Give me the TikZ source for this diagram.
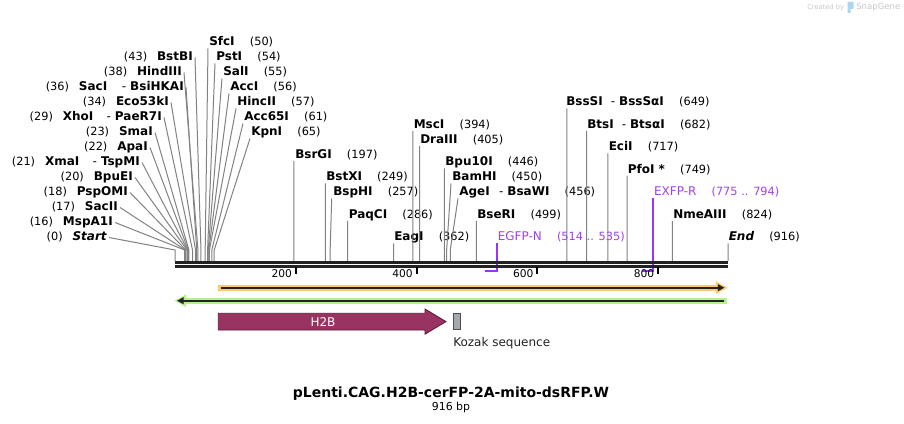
\documentclass[tikz,border=0pt]{standalone}
\usepackage{fontspec}
\setmainfont{DejaVu Sans}
\usetikzlibrary{arrows.meta}
\definecolor{cutgray}{RGB}{130,130,130}
\definecolor{barblack}{RGB}{34,34,34}
\definecolor{primer}{RGB}{153,51,255}
\definecolor{primertxt}{RGB}{160,64,240}
\definecolor{htwob}{RGB}{153,51,97}
\definecolor{htwobdark}{RGB}{90,25,55}
\definecolor{kozak}{RGB}{164,169,176}
\definecolor{orangeband}{RGB}{255,200,112}
\definecolor{greenband}{RGB}{180,240,140}
\definecolor{logogray}{RGB}{200,200,200}
\definecolor{logoblue}{RGB}{170,215,240}
\tikzset{
  lbl/.style={font=\bfseries\fontsize{9}{10}\selectfont, inner sep=0pt, text=black},
  num/.style={font=\fontsize{8.5}{10}\selectfont, inner sep=0pt, text=black},
  plbl/.style={font=\fontsize{9}{10}\selectfont, inner sep=0pt, text=primertxt},
  pnum/.style={font=\fontsize{8.5}{10}\selectfont, inner sep=0pt, text=primertxt},
  cut/.style={draw=cutgray, line width=0.75pt},
  seqline/.style={draw=barblack, line width=1.9pt},
  tickmark/.style={draw=black, line width=1.5pt},
  ticklbl/.style={font=\fontsize{8}{9}\selectfont, inner sep=0pt, anchor=base east},
  primerline/.style={draw=primer, line width=1.3pt},
}
% right-reading label: id, name, number, name x, y, bp, top x of line
\newcommand{\rsite}[7]{%
  \node[lbl,anchor=base west] (#1) at (#4,#5+4) {#2};
  \node[num,anchor=base west] (#1n) at ([xshift=11pt]#1.base east) {#3};
  \coordinate (#1a) at (#7,#5+6.5);
  \coordinate (#1b) at (175+#6*0.60371,250);
  \coordinate (#1c) at (175+#6*0.60371,261);
  \draw[cut] (#1a) -- (#1b) -- (#1c);}
% left-reading label: id, name, number, name right x, y, bp
\newcommand{\lsite}[6]{%
  \node[lbl,anchor=base east] (#1) at (#4,#5+4) {#2};
  \node[num,anchor=base east] (#1n) at ([xshift=-7pt]#1.base west) {#3};
  \coordinate (#1a) at (#4+2,#5+0.5);
  \coordinate (#1b) at (175+#6*0.60371,250);
  \coordinate (#1c) at (175+#6*0.60371,261);
  \draw[cut] (#1a) -- (#1b) -- (#1c);}
\begin{document}
\begin{tikzpicture}[x=0.75pt,y=-0.75pt]
\useasboundingbox (0,0) rectangle (904,424);
\fill[white] (0,0) rectangle (904,424);

% logo
\node[font=\fontsize{5}{6}\selectfont, text=logogray, inner sep=0pt, anchor=west] (created) at (807,7.5) {Created by};
\fill[logoblue] (847.5,2) -- (853.5,2) -- (853.5,9) -- (850.5,9) -- (850.5,13) -- (847.5,13) -- cycle;
\node[font=\fontsize{6.4}{7}\selectfont, text=logogray, inner sep=0pt, anchor=west] (snapgene) at (856,7.5) {SnapGene};

% left labels
\lsite{bstbi}{BstBI}{(43)}{193}{57}{43}
\lsite{hind}{HindIII}{(38)}{182}{72}{38}
\lsite{saci}{SacI\hspace{11pt}{\mdseries -}\hspace{3pt}BsiHKAI}{(36)}{184}{87}{36}
\lsite{eco}{Eco53kI}{(34)}{169}{102}{34}
\lsite{xhoi}{XhoI\hspace{10pt}{\mdseries -}\hspace{3pt}PaeR7I}{(29)}{162}{117}{29}
\lsite{smai}{SmaI}{(23)}{153}{132}{23}
\lsite{apai}{ApaI}{(22)}{148}{147}{22}
\lsite{xmai}{XmaI\hspace{10pt}{\mdseries -}\hspace{3pt}TspMI}{(21)}{140}{162}{21}
\lsite{bpuei}{BpuEI}{(20)}{133}{177}{20}
\lsite{pspomi}{PspOMI}{(18)}{128}{192}{18}
\lsite{sacii}{SacII}{(17)}{118}{207}{17}
\lsite{mspa}{MspA1I}{(16)}{113}{222}{16}
\lsite{start}{\itshape Start}{(0)}{107}{237}{0}

% right labels (top fan)
\rsite{sfci}{SfcI}{(50)}{209}{42}{50}{208}
\rsite{psti}{PstI}{(54)}{216}{57}{54}{215}
\rsite{sali}{SalI}{(55)}{223}{72}{55}{222}
\rsite{acci}{AccI}{(56)}{230}{87}{56}{229}
\rsite{hinc}{HincII}{(57)}{237}{102}{57}{236}
\rsite{accsf}{Acc65I}{(61)}{244}{117}{61}{243}
\rsite{kpni}{KpnI}{(65)}{251}{132}{65}{250}

% middle and right labels
\rsite{bsrgi}{BsrGI}{(197)}{295}{154.5}{197}{293.9}
\rsite{bstxi}{BstXI}{(249)}{326}{177}{249}{325.3}
\rsite{bsphi}{BspHI}{(257)}{333}{192}{257}{331.7}
\rsite{paqci}{PaqCI}{(286)}{348.5}{214.5}{286}{347.7}
\rsite{eagi}{EagI}{(362)}{394}{237}{362}{393.5}
\rsite{msci}{MscI}{(394)}{413.5}{124.5}{394}{412.9}
\rsite{dra}{DraIII}{(405)}{420}{139.5}{405}{419.5}
\rsite{bpu}{Bpu10I}{(446)}{445}{162}{446}{444.3}
\rsite{bamhi}{BamHI}{(450)}{452}{177}{450}{451}
\rsite{agei}{AgeI\hspace{7pt}{\mdseries -}\hspace{3pt}BsaWI}{(456)}{459}{192}{456}{458}
\rsite{bseri}{BseRI}{(499)}{477}{214.5}{499}{476.3}
\rsite{bsssi}{BssSI\hspace{6pt}{\mdseries -}\hspace{3pt}BssSαI}{(649)}{566}{102}{649}{566.8}
\rsite{btsi}{BtsI\hspace{6pt}{\mdseries -}\hspace{3pt}BtsαI}{(682)}{587}{124.5}{682}{586.7}
\rsite{ecii}{EciI}{(717)}{608.5}{147}{717}{607.8}
\rsite{pfoi}{PfoI *}{(749)}{627.5}{169.5}{749}{627.2}
\rsite{nme}{NmeAIII}{(824)}{673}{214.5}{824}{672.4}
\rsite{endl}{\itshape End}{(916)}{728.5}{237}{916}{728}

% primers
\node[plbl,anchor=base west] (egfpn) at (497.5,241) {EGFP-N};
\node[pnum,anchor=base west] (egfpnn) at ([xshift=11pt]egfpn.base east) {(514 .. 535)};
\coordinate (egfpa) at (497.3,243.5);
\coordinate (egfpb) at (497.3,270.7);
\coordinate (egfpc) at (485.3,270.7);
\draw[primerline] (egfpa) -- (egfpb) -- (egfpc);
\node[plbl,anchor=base west] (exfpr) at (653.8,196) {EXFP-R};
\node[pnum,anchor=base west] (exfprn) at ([xshift=11pt]exfpr.base east) {(775 .. 794)};
\coordinate (exfpa) at (653.3,198.5);
\coordinate (exfpb) at (653.3,270.7);
\coordinate (exfpc) at (641.7,270.7);
\draw[primerline] (exfpa) -- (exfpb) -- (exfpc);

% sequence bar
\coordinate (seqL1) at (175,262.3);
\coordinate (seqR1) at (728,262.3);
\coordinate (seqL2) at (175,266.3);
\coordinate (seqR2) at (728,266.3);
\draw[seqline] (seqL1) -- (seqR1);
\draw[seqline] (seqL2) -- (seqR2);

% ticks
\foreach \v/\xx in {200/295.7,400/416.5,600/537.2,800/658.0}{
  \draw[tickmark] (\xx,267.3) -- (\xx,274);
  \node[ticklbl] at (\xx-3.5,277.5) {\v};
}

% orange feature
\coordinate (orL) at (218.3,287.7);
\coordinate (orR) at (721,287.7);
\draw[line width=4.5pt, orangeband] (orL) -- (orR);
\fill[orangeband] (716,281.5) -- (727.5,287.7) -- (716,293.9) -- cycle;
\draw[line width=1.5pt, barblack, -{Triangle[length=5pt,width=5pt]}] (220.5,287.7) -- (724.5,287.7);

% green feature
\coordinate (grL) at (180,300.7);
\coordinate (grR) at (726.5,300.7);
\draw[line width=4.5pt, greenband] (grL) -- (grR);
\fill[greenband] (186,294.5) -- (174.5,300.7) -- (186,306.9) -- cycle;
\draw[line width=1.5pt, barblack, -{Triangle[length=5pt,width=5pt]}] (724,300.7) -- (177,300.7);

% H2B arrow
\draw[fill=htwob, draw=htwobdark, line width=0.6pt]
  (218.3,313.3) -- (425,313.3) -- (425,309) -- (446,321.6) -- (425,334.2) -- (425,330) -- (218.3,330) -- cycle;
\node[font=\fontsize{9}{10}\selectfont, text=white, inner sep=0pt] (h2b) at (323,321.6) {H2B};

% Kozak
\draw[fill=kozak, draw=barblack!80, line width=0.6pt] (453.5,313.3) rectangle (460,329.5);
\node[font=\fontsize{9}{10}\selectfont, text=barblack, inner sep=0pt, anchor=base west] (kozak) at (453,346.5) {Kozak sequence};

% title
\node[font=\bfseries\fontsize{10.5}{12}\selectfont, inner sep=0pt] (title) at (451,393.3) {pLenti.CAG.H2B-cerFP-2A-mito-dsRFP.W};
\node[font=\fontsize{8.2}{9}\selectfont, inner sep=0pt] (bp) at (451,407.5) {916 bp};
\end{tikzpicture}
\end{document}
